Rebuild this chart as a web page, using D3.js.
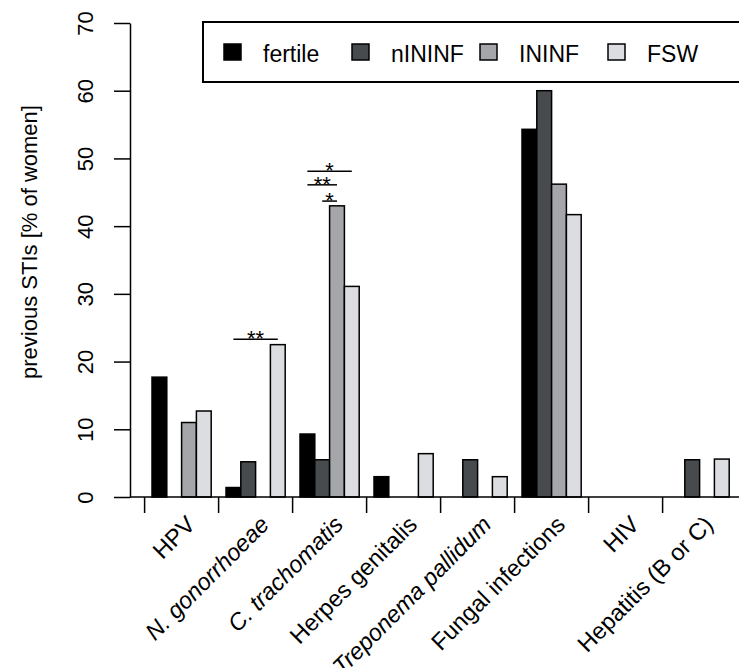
<!DOCTYPE html>
<html>
<head>
<meta charset="utf-8">
<script src="https://cdn.jsdelivr.net/npm/d3@7"></script>
<style>
  body { margin: 0; background: #fff; }
  svg { display: block; font-family: 'Liberation Sans', Arial, sans-serif; }
</style>
</head>
<body>
<div id="chart"></div>
<script>
// categories along x
const infections = ['HPV', 'N. gonorrhoeae', 'C. trachomatis', 'Herpes genitalis',
  'Treponema pallidum', 'Fungal infections', 'HIV', 'Hepatitis (B or C)'];
const italicLabels = ['N. gonorrhoeae', 'C. trachomatis', 'Treponema pallidum'];

// groups of women (series)
const groups = ['fertile', 'nININF', 'ININF', 'FSW'];
const groupColors = ['#000000', '#484b4e', '#a4a6a9', '#dcdde0'];

// % of women, one value per infection
const fertile = [17.7, 1.4, 9.3, 3.0, 0, 54.3, 0, 0];
const nININF  = [0, 5.2, 5.5, 0, 5.5, 60.0, 0, 5.5];
const ININF   = [11.0, 0, 43.0, 0, 0, 46.2, 0, 0];
const FSW     = [12.7, 22.5, 31.1, 6.4, 3.0, 41.7, 0, 5.6];

const yTicks = [0, 10, 20, 30, 40, 50, 60, 70];

// significance bars: infection, from group, to group, level (% units), stars
const sigInfection = ['N. gonorrhoeae', 'C. trachomatis', 'C. trachomatis', 'C. trachomatis'];
const sigFrom  = ['fertile', 'nININF', 'fertile', 'fertile'];
const sigTo    = ['FSW', 'ININF', 'ININF', 'FSW'];
const sigLevel = [23.3, 43.7, 46.1, 48.1];
const sigStars = ['**', '*', '**', '*'];

const width = 739, height = 668;
const values = [fertile, nININF, ININF, FSW];
const rows = infections.map((name, i) => ({
  name,
  bars: groups.map((g, j) => ({ group: g, value: values[j][i] }))
}));

const svg = d3.select('#chart').append('svg')
  .attr('width', width)
  .attr('height', height);

const x = d3.scaleBand()
  .domain(infections)
  .range([144.6, 736.6])
  .paddingInner(0.2)
  .paddingOuter(0.1);

const xInner = d3.scaleBand()
  .domain(groups)
  .range([0, x.bandwidth()]);

const y = d3.scaleLinear()
  .domain([0, 70])
  .range([497, 23]);

const color = d3.scaleOrdinal(groups, groupColors);

// bars
const barG = svg.append('g')
  .selectAll('g')
  .data(rows)
  .join('g')
  .attr('transform', d => `translate(${x(d.name)},0)`);

barG.selectAll('rect')
  .data(d => d.bars.filter(b => b.value > 0))
  .join('rect')
  .attr('x', d => xInner(d.group))
  .attr('y', d => y(d.value))
  .attr('width', xInner.bandwidth())
  .attr('height', d => y(0) - y(d.value))
  .attr('fill', d => color(d.group))
  .attr('stroke', '#000')
  .attr('stroke-width', 1.5);

// y axis
const yAxis = svg.append('g')
  .attr('transform', 'translate(130,0)')
  .call(d3.axisLeft(y).tickValues(yTicks).tickSize(16).tickSizeOuter(0));
yAxis.select('.domain').attr('stroke-width', 1.5);
yAxis.selectAll('.tick line').attr('stroke-width', 1.5);
yAxis.selectAll('.tick text')
  .attr('font-size', 22)
  .attr('fill', '#000')
  .attr('font-family', "'Liberation Sans', Arial, sans-serif")
  .attr('text-anchor', 'middle')
  .attr('transform', 'rotate(-90)')
  .attr('x', 0)
  .attr('y', -37)
  .attr('dy', 0);

svg.append('text')
  .attr('transform', 'translate(37,242) rotate(-90)')
  .attr('text-anchor', 'middle')
  .attr('font-size', 22)
  .text('previous STIs [% of women]');

// x baseline and ticks
svg.append('line')
  .attr('x1', 130).attr('x2', width)
  .attr('y1', y(0)).attr('y2', y(0))
  .attr('stroke', '#000').attr('stroke-width', 1.5);

const gap = x.step() * x.paddingInner() / 2;
svg.append('g')
  .selectAll('line')
  .data(infections)
  .join('line')
  .attr('x1', d => x(d) - gap).attr('x2', d => x(d) - gap)
  .attr('y1', y(0)).attr('y2', y(0) + 16)
  .attr('stroke', '#000').attr('stroke-width', 1.5);

svg.append('g')
  .selectAll('text')
  .data(infections)
  .join('text')
  .attr('transform', d => `translate(${x(d) + x.bandwidth() / 2 + 15},526) rotate(-45)`)
  .attr('text-anchor', 'end')
  .attr('font-size', 23.5)
  .attr('font-style', d => italicLabels.includes(d) ? 'italic' : 'normal')
  .text(d => d);

// significance annotations
const sig = sigInfection.map((inf, i) => ({
  x1: x(inf) + xInner(sigFrom[i]) + xInner.bandwidth() / 2,
  x2: x(inf) + xInner(sigTo[i]) + xInner.bandwidth() / 2,
  y: y(sigLevel[i]),
  stars: sigStars[i]
}));
const sigG = svg.append('g').selectAll('g').data(sig).join('g');
sigG.append('line')
  .attr('x1', d => d.x1).attr('x2', d => d.x2)
  .attr('y1', d => d.y).attr('y2', d => d.y)
  .attr('stroke', '#000').attr('stroke-width', 1.5);
sigG.append('text')
  .attr('x', d => (d.x1 + d.x2) / 2)
  .attr('y', d => d.y + 7)
  .attr('text-anchor', 'middle')
  .attr('font-size', 22)
  .text(d => d.stars);

// legend
const legend = svg.append('g');
legend.append('rect')
  .attr('x', 203).attr('y', 22)
  .attr('width', 600).attr('height', 60)
  .attr('fill', '#fff')
  .attr('stroke', '#000').attr('stroke-width', 2);

const legendX = d3.scalePoint().domain(groups).range([224, 608]);
const item = legend.selectAll('g.item')
  .data(groups)
  .join('g')
  .attr('class', 'item')
  .attr('transform', d => `translate(${legendX(d)},44)`);
item.append('rect')
  .attr('width', 17).attr('height', 16)
  .attr('fill', d => color(d))
  .attr('stroke', '#000').attr('stroke-width', 1.5);
item.append('text')
  .attr('x', 39)
  .attr('y', 18)
  .attr('font-size', 23)
  .text(d => d);
</script>
</body>
</html>
